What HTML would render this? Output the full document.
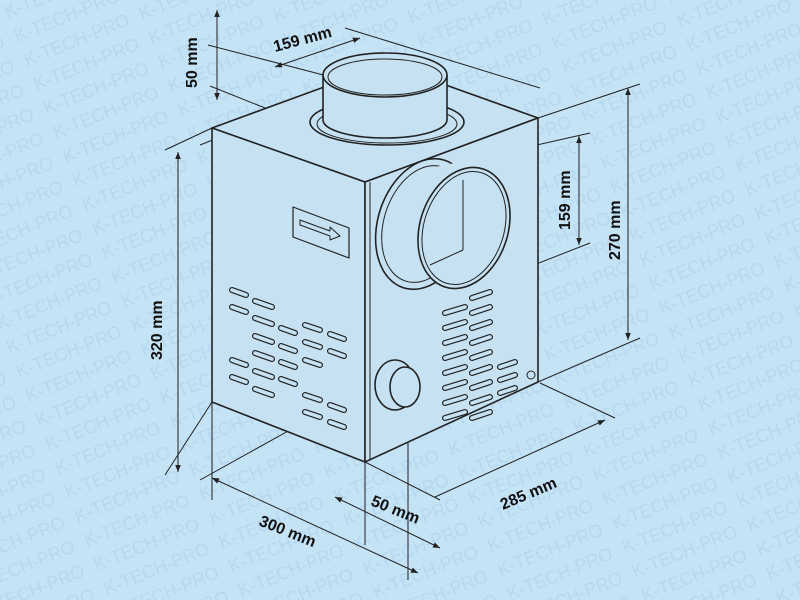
<!DOCTYPE html>
<html><head><meta charset="utf-8"><style>
html,body{margin:0;padding:0;background:#c4e3f5;}
svg{display:block}
text{font-family:"Liberation Sans",sans-serif;font-weight:bold;font-size:16px;fill:#111}
</style></head><body>
<svg width="800" height="600" viewBox="0 0 800 600" xmlns="http://www.w3.org/2000/svg">
<defs>
<marker id="a" viewBox="0 0 10 10" refX="10" refY="5" markerWidth="12" markerHeight="7" orient="auto-start-reverse" markerUnits="userSpaceOnUse"><path d="M0,1 L10,5 L0,9 z" fill="#222"/></marker>
<pattern id="wm" width="124" height="26" patternUnits="userSpaceOnUse" patternTransform="rotate(-22)">
<text x="0" y="20" style="font-size:18px;font-weight:normal;fill:#b7d7f0">K-TECH-PRO</text>
</pattern>
</defs>
<rect width="800" height="600" fill="#c4e3f5"/>
<rect width="800" height="600" fill="url(#wm)"/>
<g stroke="#222" fill="none" stroke-width="1">
<line x1="208" y1="45" x2="412" y2="98"/>
<line x1="210" y1="86" x2="320" y2="130"/>
<line x1="200" y1="145" x2="365" y2="80"/>
<line x1="345" y1="28" x2="540" y2="88"/>
<line x1="165" y1="150" x2="212" y2="128"/>
<line x1="165" y1="475" x2="212" y2="402"/>
<line x1="538" y1="118" x2="640" y2="84"/>
<line x1="538" y1="382" x2="640" y2="338"/>
<line x1="470" y1="160" x2="590" y2="133"/>
<line x1="470" y1="290" x2="590" y2="243"/>
<line x1="212" y1="402" x2="212" y2="500"/>
<line x1="365" y1="462" x2="365" y2="545"/>
<line x1="408" y1="280" x2="408" y2="580"/>
<line x1="540" y1="383" x2="615" y2="418"/>
<line x1="365" y1="462" x2="440" y2="500"/>
<line x1="200" y1="480" x2="290" y2="430"/>
<line x1="217" y1="10" x2="217" y2="100" marker-start="url(#a)" marker-end="url(#a)"/>
<line x1="275" y1="67" x2="360" y2="38" marker-start="url(#a)" marker-end="url(#a)"/>
<line x1="178" y1="152" x2="178" y2="472" marker-start="url(#a)" marker-end="url(#a)"/>
<line x1="628" y1="88" x2="628" y2="340" marker-start="url(#a)" marker-end="url(#a)"/>
<line x1="579" y1="136" x2="579" y2="245" marker-start="url(#a)" marker-end="url(#a)"/>
<line x1="212" y1="478" x2="418" y2="573" marker-start="url(#a)" marker-end="url(#a)"/>
<line x1="335" y1="497" x2="440" y2="548" marker-start="url(#a)" marker-end="url(#a)"/>
<line x1="435" y1="497" x2="605" y2="420" marker-end="url(#a)"/>
</g>
<g stroke="#222" stroke-width="1.6" stroke-linejoin="round">
<polygon points="212,128 387,64 538,118 365,182" fill="#c6e2f2"/>
<polygon points="212,128 365,182 365,462 212,402" fill="#c6e2f2"/>
<polygon points="365,182 538,118 538,382 365,462" fill="#c6e2f2"/>
<line x1="370" y1="182" x2="370" y2="460" stroke-width="1"/>
<ellipse cx="387" cy="122" rx="77" ry="23" fill="#c6e2f2"/>
<ellipse cx="387" cy="124" rx="70" ry="19" fill="none" stroke-width="1"/>
<path d="M323,75 L323,120 A62,18 0 0 0 447,120 L447,75" fill="#c6e2f2"/>
<ellipse cx="385" cy="75" rx="62" ry="22" fill="#c6e2f2"/>
<ellipse cx="385" cy="77" rx="57" ry="18" fill="none" stroke-width="1"/>
<ellipse cx="424" cy="224" rx="46" ry="67" transform="rotate(18 424 224)" fill="#c6e2f2"/>
<ellipse cx="424" cy="224" rx="40" ry="60" transform="rotate(18 424 224)" fill="none" stroke-width="1"/>
<path d="M420,170 L470,160 L500,282 L448,290" fill="#c6e2f2" stroke="none"/>
<ellipse cx="464" cy="228" rx="44" ry="62" transform="rotate(18 464 228)" fill="#c6e2f2"/>
<ellipse cx="464" cy="228" rx="40" ry="58" transform="rotate(18 464 228)" fill="none" stroke-width="1"/>
<line x1="463" y1="180" x2="463" y2="250" stroke-width="1"/>
<line x1="430" y1="265" x2="463" y2="250" stroke-width="1"/>
<polygon points="293,207 349,228 349,258 293,237" fill="#c6e2f2" stroke-width="1.2"/>
<path d="M300,220 L330,231 L330,227 L340,236 L330,240 L330,236 L300,225 z" fill="none" stroke-width="1"/>
<ellipse cx="395" cy="385" rx="20" ry="25" fill="#c6e2f2"/>
<ellipse cx="405" cy="387" rx="15" ry="20" fill="#c6e2f2"/>
<circle cx="531" cy="375" r="4" fill="none" stroke-width="1"/>
</g>
<g fill="none" stroke-linecap="round">
<g stroke="#222" stroke-width="6">
<path d="M232,290l14,5 M255,301l17,6 M232,307l14,5 M255,318l17,6 M281,328l14,5 M305,325l15,5 M330,334l14,5 M255,336l17,6 M281,346l14,5 M305,342l15,5 M330,351l14,5 M255,353l17,6 M281,362l14,5 M305,360l15,5 M232,360l14,5 M255,371l17,6 M281,379l14,5 M232,377l14,5 M255,389l17,6 M305,395l15,5 M330,405l14,5 M305,412l15,5 M330,422l14,5"/>
<path d="M445,313l20,-6 M472,298l18,-6 M445,328l20,-6 M472,313l18,-6 M445,343l20,-6 M472,328l18,-6 M472,343l18,-6 M445,358l20,-6 M445,373l20,-6 M472,358l18,-6 M445,388l20,-6 M472,373l18,-6 M500,367l15,-5 M445,403l20,-6 M472,388l18,-6 M500,380l15,-5 M445,418l20,-6 M472,403l18,-6 M500,393l15,-5 M472,418l18,-6"/>
</g>
<g stroke="#c6e2f2" stroke-width="3.6">
<path d="M232,290l14,5 M255,301l17,6 M232,307l14,5 M255,318l17,6 M281,328l14,5 M305,325l15,5 M330,334l14,5 M255,336l17,6 M281,346l14,5 M305,342l15,5 M330,351l14,5 M255,353l17,6 M281,362l14,5 M305,360l15,5 M232,360l14,5 M255,371l17,6 M281,379l14,5 M232,377l14,5 M255,389l17,6 M305,395l15,5 M330,405l14,5 M305,412l15,5 M330,422l14,5"/>
<path d="M445,313l20,-6 M472,298l18,-6 M445,328l20,-6 M472,313l18,-6 M445,343l20,-6 M472,328l18,-6 M472,343l18,-6 M445,358l20,-6 M445,373l20,-6 M472,358l18,-6 M445,388l20,-6 M472,373l18,-6 M500,367l15,-5 M445,403l20,-6 M472,388l18,-6 M500,380l15,-5 M445,418l20,-6 M472,403l18,-6 M500,393l15,-5 M472,418l18,-6"/>
</g>
</g>
<text transform="translate(275,52) rotate(-15)">159 mm</text>
<text transform="translate(197,88) rotate(-90)">50 mm</text>
<text transform="translate(162,360) rotate(-90)">320 mm</text>
<text transform="translate(620,260) rotate(-90)">270 mm</text>
<text transform="translate(570,230) rotate(-90)">159 mm</text>
<text transform="translate(258,525) rotate(22)">300 mm</text>
<text transform="translate(370,505) rotate(22)">50 mm</text>
<text transform="translate(503,510) rotate(-23)">285 mm</text>
</svg>
</body></html>
